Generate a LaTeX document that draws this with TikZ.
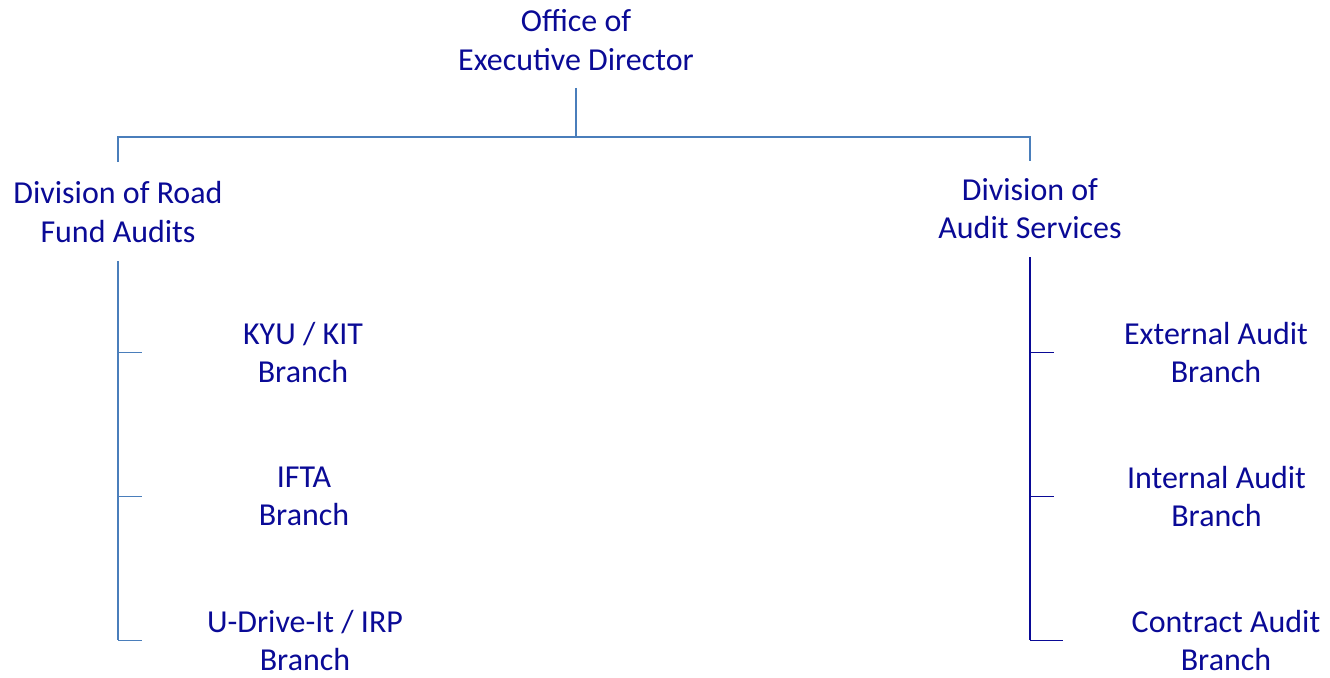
\documentclass[tikz,border=0pt]{standalone}
\usepackage{fontspec}
\setmainfont{Carlito}
\usetikzlibrary{positioning}
\definecolor{orgtext}{RGB}{10,10,150}
\definecolor{orgline}{RGB}{74,126,187}

\begin{document}
\begin{tikzpicture}[x=0.02cm,y=-0.02cm,
  orgbox/.style={text=orgtext,align=center,inner sep=0pt,font=\fontsize{18.2}{22}\selectfont},
  treeline/.style={draw=orgline,line width=1.1pt},
  treeline dark/.style={draw=orgtext,line width=1.1pt}]

\useasboundingbox (0,0) rectangle (1330,678);

% top
\node[orgbox] (exec) at (576,40) {Office of\\Executive Director};

% divisions
\node[orgbox] (roadiv) at (118,212) {Division of Road\\Fund Audits};
\node[orgbox] (auddiv) at (1030,208.5) {Division of\\Audit Services};

% branches, road fund
\node[orgbox] (kyu) at (303,352.5) {KYU / KIT\\Branch};
\node[orgbox] (ifta) at (304,496.5) {IFTA\\Branch};
\node[orgbox] (udrive) at (305,640.5) {U-Drive-It / IRP\\Branch};

% branches, audit services
\node[orgbox] (external) at (1216,352.5) {External Audit\\Branch};
\node[orgbox] (internal) at (1216.5,496.5) {Internal Audit\\Branch};
\node[orgbox] (contract) at (1226,640.5) {Contract Audit\\Branch};

\coordinate (bar) at (576,137);
\draw[treeline] (exec.south) ++(0,17) -- (bar);
\draw[treeline] (roadiv.north) ++(0,-19) |- (bar);
\draw[treeline] (auddiv.north) ++(0,-17) |- (bar);

\draw[treeline] (roadiv.south) ++(0,18) -- (roadiv.south |- udrive);
\foreach \b in {kyu,ifta,udrive}
  \draw[treeline] (roadiv.south |- \b) -- ++(24,0);

\draw[treeline dark] (auddiv.south) ++(0,18) -- (auddiv.south |- contract);
\foreach \b/\w in {external/24,internal/24,contract/33}
  \draw[treeline dark] (auddiv.south |- \b) -- ++(\w,0);

\end{tikzpicture}
\end{document}
